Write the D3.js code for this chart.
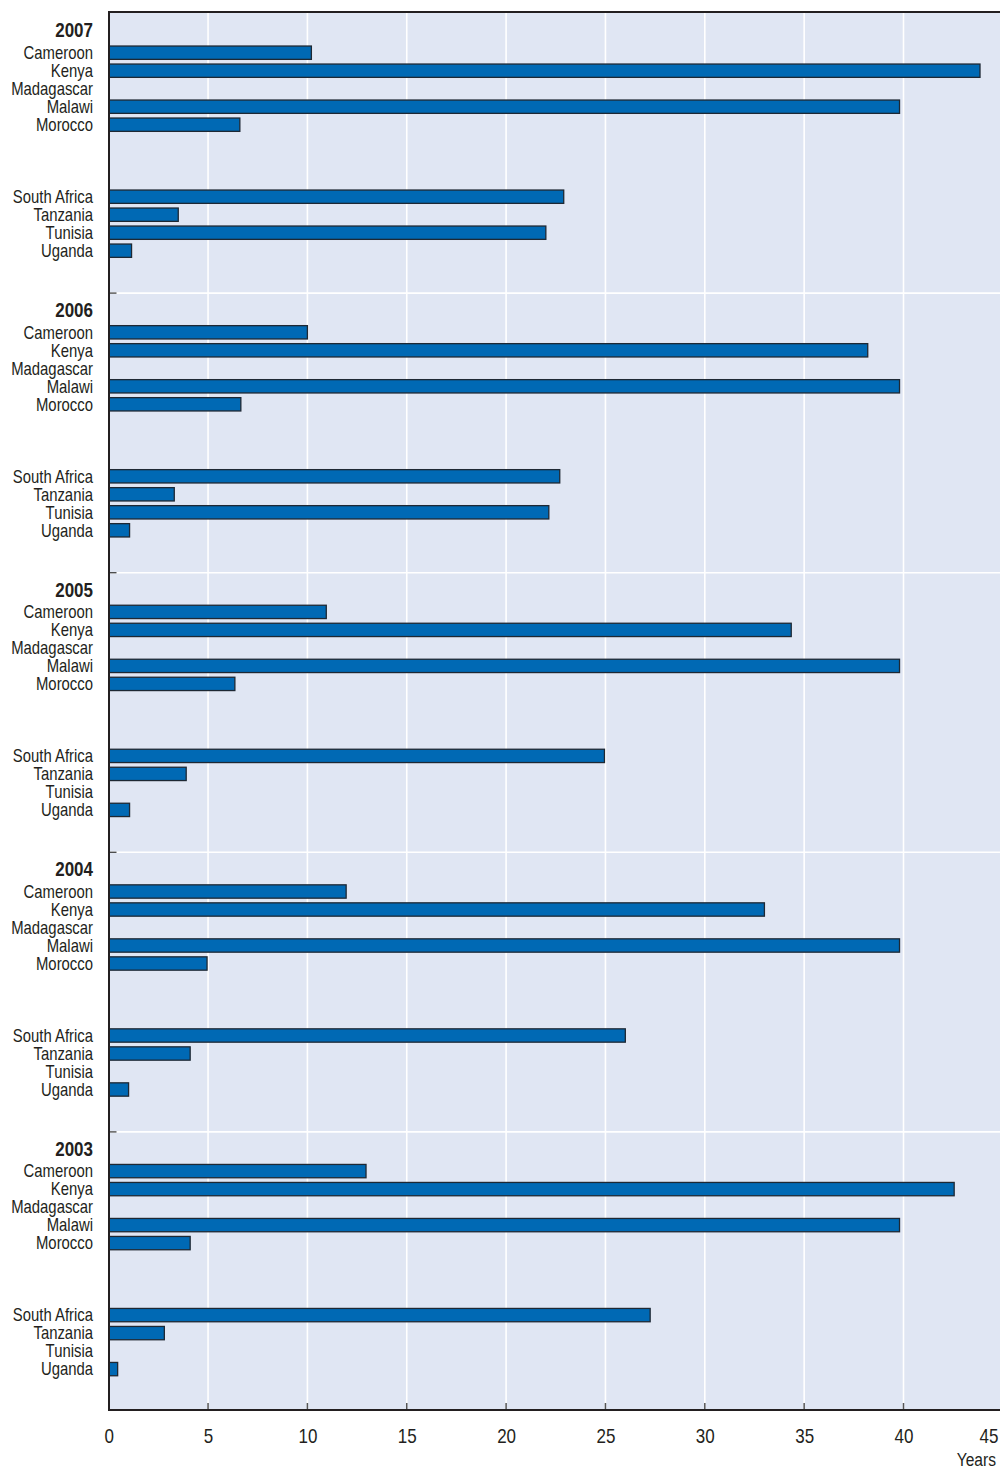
<!DOCTYPE html>
<html>
<head>
<meta charset="utf-8">
<script src="https://cdn.jsdelivr.net/npm/d3@7"></script>
<style>
  html, body { margin: 0; padding: 0; background: #ffffff; }
  svg { display: block; }
  text { font-family: "Liberation Sans", Arial, sans-serif; fill: #231f20; }
</style>
</head>
<body>
<svg id="chart" width="1000" height="1469"></svg>
<script>
// ---------------- DATA ----------------
const years = ["2007", "2006", "2005", "2004", "2003"];
const countries = ["Cameroon", "Kenya", "Madagascar", "Malawi", "Morocco", "South Africa", "Tanzania", "Tunisia", "Uganda"];
// row slots inside each year block (blank slots have no label)
const rowSlots = ["__year", "Cameroon", "Kenya", "Madagascar", "Malawi", "Morocco", "__gap1", "__gap2", "__gap3", "South Africa", "Tanzania", "Tunisia", "Uganda"];
const values2007 = [10.2, 43.85, null, 39.8, 6.6, 22.9, 3.5, 22.0, 1.15];
const values2006 = [10.0, 38.2, null, 39.8, 6.65, 22.7, 3.3, 22.15, 1.05];
const values2005 = [10.95, 34.35, null, 39.8, 6.35, 24.95, 3.9, null, 1.05];
const values2004 = [11.95, 33.0, null, 39.8, 4.95, 26.0, 4.1, null, 1.0];
const values2003 = [12.95, 42.55, null, 39.8, 4.1, 27.25, 2.8, null, 0.45];
const xTicks = [0, 5, 10, 15, 20, 25, 30, 35, 40, 45];
const xUnit = "Years";

const valuesByYear = { "2007": values2007, "2006": values2006, "2005": values2005, "2004": values2004, "2003": values2003 };

// ---------------- LAYOUT ----------------
const plot = { left: 109, right: 1000, top: 12, bottom: 1410 };
const NARROW = 0.85;
const svg = d3.select("#chart");

const x = d3.scaleLinear().domain([0, 45]).range([108.7, 108.7 + 45 * 19.87]);
const yGroup = d3.scaleBand().domain(years).range([plot.top, plot.bottom]);
const yRow = d3.scaleBand().domain(rowSlots).range([13.7, 13.7 + 234]).paddingInner(0.26).paddingOuter(0.13);

function narrowText(sel, tx, ty, sx) {
  return sel.attr("x", 0).attr("y", 0)
    .attr("transform", `translate(${tx},${ty}) scale(${sx},1)`);
}

// clip to plot
svg.append("defs").append("clipPath").attr("id", "plotclip")
  .append("rect").attr("x", plot.left).attr("y", plot.top)
  .attr("width", plot.right - plot.left).attr("height", plot.bottom - plot.top);

// background
svg.append("rect")
  .attr("x", plot.left).attr("y", plot.top)
  .attr("width", plot.right - plot.left).attr("height", plot.bottom - plot.top)
  .attr("fill", "#e0e6f3");

const g = svg.append("g").attr("clip-path", "url(#plotclip)");

// vertical gridlines
g.selectAll("line.vgrid").data(xTicks.filter(d => d > 0)).enter().append("line")
  .attr("class", "vgrid")
  .attr("x1", d => x(d)).attr("x2", d => x(d))
  .attr("y1", plot.top).attr("y2", plot.bottom)
  .attr("stroke", "#ffffff").attr("stroke-width", 1.6);

// horizontal separators between year blocks
const seps = years.slice(1);
g.selectAll("line.hsep").data(seps).enter().append("line")
  .attr("class", "hsep")
  .attr("x1", plot.left).attr("x2", plot.right)
  .attr("y1", d => yGroup(d) + 1.5).attr("y2", d => yGroup(d) + 1.5)
  .attr("stroke", "#ffffff").attr("stroke-width", 1.6);
svg.selectAll("line.hsepTick").data(seps).enter().append("line")
  .attr("x1", plot.left).attr("x2", plot.left + 7.5)
  .attr("y1", d => yGroup(d) + 1.5).attr("y2", d => yGroup(d) + 1.5)
  .attr("stroke", "#444").attr("stroke-width", 1.3);

// bars and labels
years.forEach(yr => {
  const gy = yGroup(yr);
  const data = countries.map((c, i) => ({ c, v: valuesByYear[yr][i] })).filter(d => d.v != null);
  g.selectAll(null).data(data).enter().append("rect")
    .attr("x", x(0) + 0.5)
    .attr("y", d => gy + yRow(d.c))
    .attr("width", d => x(d.v) - x(0) - 0.5)
    .attr("height", yRow.bandwidth())
    .attr("fill", "#0069b4")
    .attr("stroke", "#1e2833")
    .attr("stroke-width", 1.3);

  svg.selectAll(null).data(countries).enter().append("text")
    .each(function (d) {
      narrowText(d3.select(this), 93, gy + yRow(d) + yRow.bandwidth() / 2, NARROW);
    })
    .attr("dy", "0.36em")
    .attr("text-anchor", "end")
    .attr("font-size", 17.5)
    .text(d => d);

  narrowText(svg.append("text"), 93, gy + yRow("__year") + yRow.bandwidth() / 2 - 4.5, 0.85)
    .attr("dy", "0.36em")
    .attr("text-anchor", "end")
    .attr("font-size", 20)
    .attr("font-weight", "bold")
    .text(yr);
});

// borders
svg.append("line").attr("x1", plot.left).attr("x2", plot.right).attr("y1", plot.top).attr("y2", plot.top)
  .attr("stroke", "#231f20").attr("stroke-width", 2);
svg.append("line").attr("x1", plot.left).attr("x2", plot.left).attr("y1", plot.top - 1).attr("y2", plot.bottom + 1)
  .attr("stroke", "#231f20").attr("stroke-width", 2);

// x axis
const xAxis = d3.axisBottom(x).tickValues(xTicks).tickSize(0).tickPadding(0).tickFormat(d3.format("d"));
const axG = svg.append("g").attr("transform", `translate(0,${plot.bottom})`).call(xAxis);
axG.select(".domain").remove();
axG.selectAll(".tick text")
  .attr("x", 0).attr("y", 0).attr("dy", "0.36em")
  .attr("transform", "translate(0,26) scale(0.85,1)")
  .attr("font-size", 20)
  .attr("font-family", "Liberation Sans, Arial, sans-serif")
  .attr("fill", "#231f20");
axG.selectAll(".tick").filter(d => d === 45).select("text")
  .attr("text-anchor", "end").attr("x", (998 - x(45)) / 0.85);
// inward ticks
svg.selectAll("line.xtick").data(xTicks.filter(d => d > 0 && x(d) < plot.right)).enter().append("line")
  .attr("x1", d => x(d)).attr("x2", d => x(d))
  .attr("y1", plot.bottom - 7).attr("y2", plot.bottom)
  .attr("stroke", "#555").attr("stroke-width", 1.5);
svg.append("line").attr("x1", plot.left - 1).attr("x2", plot.right).attr("y1", plot.bottom).attr("y2", plot.bottom)
  .attr("stroke", "#231f20").attr("stroke-width", 2);

narrowText(svg.append("text"), 996, 1459, 0.82)
  .attr("dy", "0.36em")
  .attr("text-anchor", "end").attr("font-size", 19)
  .text(xUnit);
</script>
</body>
</html>
